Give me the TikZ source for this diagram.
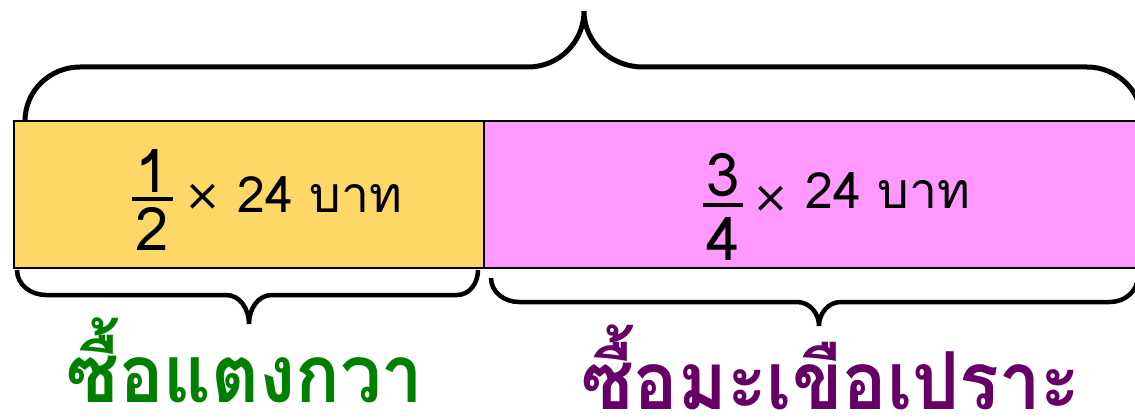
\documentclass[tikz,border=0pt]{standalone}
\usepackage{fontspec}
\newfontfamily\thai[Script=Thai]{Loma}
\newfontfamily\thaiN[Script=Thai,FakeStretch=0.925]{Loma}
\newfontfamily\dvs{DejaVu Sans}
\definecolor{yel}{RGB}{254,216,102}
\definecolor{pnk}{RGB}{255,153,255}
\definecolor{grn}{RGB}{0,128,0}
\definecolor{prp}{RGB}{102,0,102}
\tikzset{
  box/.style={draw=black,line width=2pt,inner sep=0pt},
  brace/.style={draw=black,line width=4.5pt,line join=miter},
  txt/.style={inner sep=0pt,anchor=base,font=\thai\fontsize{50}{50}\selectfont},
  fracdig/.style={inner sep=0pt,anchor=base,font=\thai\fontsize{60}{60}\selectfont},
  times/.style={inner sep=0pt,font=\dvs\fontsize{44}{44}\selectfont},
  fbar/.style={draw=black,line width=4pt},
  lbl/.style={inner sep=0pt,anchor=base,font=\thaiN\bfseries\fontsize{80}{80}\selectfont}
}
\begin{document}
\begin{tikzpicture}[x=1pt,y=-1pt]
\path[use as bounding box] (0,0) rectangle (1135,420);
% boxes
\path[box,fill=yel] (14,121) rectangle (484,268);
\path[box,fill=pnk] (484,121) rectangle (1145,268);
% top brace
\draw[brace,line width=5pt] (25,121) to[out=90,in=180] (80,67) -- (528,67)
  to[out=0,in=270] (584,11) to[out=270,in=180] (643,67) -- (1087,67)
  to[out=0,in=90] (1142,121);
% bottom left brace
\draw[brace] (17,270) to[out=270,in=180] (46,295) -- (226,295)
  to[out=0,in=90] (249,324) to[out=90,in=180] (272,295) -- (457,295)
  to[out=0,in=270] (478,270);
% bottom right brace
\draw[brace] (491,278) to[out=270,in=180] (519,302) -- (797,302)
  to[out=0,in=90] (819,326) to[out=90,in=180] (841,302) -- (1110,302)
  to[out=0,in=270] (1138,276);
% yellow text
\node[fracdig] (n1) at (152,192) {1};
\draw[fbar] (132,199) -- (173,199);
\node[fracdig] (d1) at (152,250) {2};
\node[times] (x1) at (203,197) {×};
\node[txt,anchor=base west] (t1) at (237,212) {24 บาท};
% pink text
\node[fracdig] (n2) at (723,196) {3};
\draw[fbar] (703,205) -- (743,205);
\node[fracdig] (d2) at (723,260) {4};
\node[times] (x2) at (771,199) {×};
\node[txt,anchor=base west] (t2) at (805,208) {24 บาท};
% labels
\node[lbl,text=grn] (l1) at (245,402) {ซื้อแตงกวา};
\node[lbl,text=prp] (l2) at (831,409) {ซื้อมะเขือเปราะ};
\end{tikzpicture}
\end{document}
